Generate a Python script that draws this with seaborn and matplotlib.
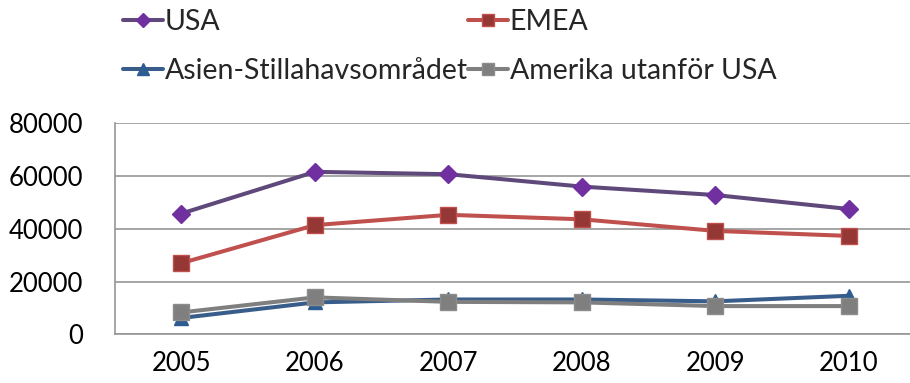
import matplotlib
matplotlib.use("Agg")
import matplotlib.pyplot as plt
from matplotlib.ticker import FixedLocator
from matplotlib.lines import Line2D
import seaborn as sns
import pandas as pd

years = [2005, 2006, 2007, 2008, 2009, 2010]
regions = ["USA", "EMEA", "Asien-Stillahavsområdet", "Amerika utanför USA"]
usa = [45800, 61600, 60700, 56000, 52800, 47500]
emea = [27000, 41400, 45300, 43600, 39200, 37300]
asia = [6200, 12100, 13200, 13200, 12500, 14600]
americas = [8300, 14000, 12300, 12100, 10700, 10700]
y_ticks = [0, 20000, 40000, 60000, 80000]

line_colors = ["#5F497A", "#C0504D", "#385D8A", "#7F7F7F"]
marker_faces = ["#7030A0", "#953735", "#2E5C91", "#7F7F7F"]
marker_edges = ["#7030A0", "#C0504D", "#2E5C91", "#8C8C8C"]
marker_shapes = ["D", "s", "^", "s"]
marker_sizes = [9, 11, 10, 11]
legend_marker_sizes = [7, 8.5, 8, 8]

df = pd.DataFrame({
    "År": years * 4,
    "Region": sum([[r] * len(years) for r in regions], []),
    "Värde": usa + emea + asia + americas,
})

sns.set_style("white")
plt.rcParams["font.family"] = ["Lato", "DejaVu Sans"]

fig = plt.figure(figsize=(9.10, 3.83), dpi=100)
ax = fig.add_axes([114.7 / 910, 48.7 / 383, 801 / 910, 211 / 383])

sns.lineplot(data=df, x="År", y="Värde", hue="Region", hue_order=regions,
             palette=line_colors, linewidth=2.9, ax=ax, legend=False)

# markers on each series line, with their own face/edge colours
for i in range(len(regions)):
    line = ax.lines[i]
    line.set_marker(marker_shapes[i])
    line.set_markersize(marker_sizes[i])
    line.set_markerfacecolor(marker_faces[i])
    line.set_markeredgecolor(marker_edges[i])
    line.set_markeredgewidth(1.0)
    line.set_solid_joinstyle("round")
    line.set_zorder(3 + i)

ax.set_xlim(2004.5, 2010.5)
ax.set_ylim(0, 80000)
ax.set_xticks(years)
ax.set_xticklabels([str(y) for y in years])
ax.xaxis.set_minor_locator(FixedLocator([y - 0.5 for y in years] + [2010.5]))
ax.set_yticks(y_ticks)
ax.set_yticklabels([str(v) for v in y_ticks])

ax.set_xlabel("")
ax.set_ylabel("")
grid_color = "#969696"
ax.grid(axis="y", color=grid_color, linewidth=1.2)
ax.grid(axis="x", visible=False)
ax.set_axisbelow(True)
for side in ["top", "right"]:
    ax.spines[side].set_visible(False)
for side in ["left", "bottom"]:
    ax.spines[side].set_color(grid_color)
    ax.spines[side].set_linewidth(1.2)

ax.tick_params(axis="x", which="major", length=0, pad=12, labelsize=18.5, colors="black")
ax.tick_params(axis="x", which="minor", length=7, width=1.2, color=grid_color, direction="out")
ax.tick_params(axis="y", which="major", length=7, width=1.2, color=grid_color,
               direction="out", pad=16, labelsize=18.5, labelcolor="black")

# legend laid out in rows: USA, EMEA / Asien-Stillahavsområdet, Amerika utanför USA
handles = [Line2D([], [], color=line_colors[i], linewidth=2.9, marker=marker_shapes[i],
                  markersize=legend_marker_sizes[i], markerfacecolor=marker_faces[i],
                  markeredgecolor=marker_edges[i])
           for i in range(4)]
order = [0, 2, 1, 3]
fig.legend([handles[i] for i in order], [regions[i] for i in order], ncol=2,
           loc="upper left", bbox_to_anchor=(111.6 / 910, 1.006),
           frameon=False, fontsize=20.5, handlelength=1.4, handletextpad=0.07,
           columnspacing=0.0, labelspacing=0.82, borderaxespad=0.0)

fig.savefig("out.png", dpi=100, facecolor="white")
